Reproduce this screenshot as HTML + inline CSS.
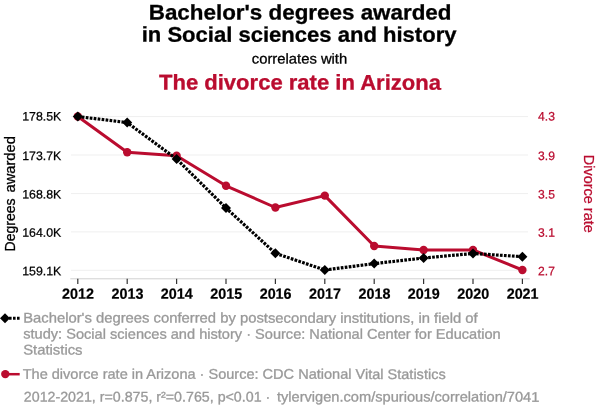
<!DOCTYPE html>
<html><head><meta charset="utf-8">
<style>
html,body{margin:0;padding:0;background:#fff;}
body{width:600px;height:414px;overflow:hidden;font-family:"Liberation Sans",sans-serif;}
svg{display:block;will-change:transform;}
text{font-family:"Liberation Sans",sans-serif;}
</style></head><body>
<svg width="600" height="414" viewBox="0 0 600 414">
<rect width="600" height="414" fill="#fff"/>
<text transform="translate(300.1,19.5) rotate(0.03)" text-anchor="middle" font-size="21.2" fill="#000" font-weight="bold" textLength="302.8" lengthAdjust="spacingAndGlyphs" stroke="#000" stroke-width="0.3">Bachelor's degrees awarded</text>
<text transform="translate(299.1,41.7) rotate(0.03)" text-anchor="middle" font-size="21.2" fill="#000" font-weight="bold" textLength="314.8" lengthAdjust="spacingAndGlyphs" stroke="#000" stroke-width="0.3">in Social sciences and history</text>
<text transform="translate(299.5,63.5) rotate(0.03)" text-anchor="middle" font-size="14.3" fill="#000" textLength="95.4" lengthAdjust="spacingAndGlyphs" stroke="#000" stroke-width="0.3">correlates with</text>
<text transform="translate(300,89.6) rotate(0.03)" text-anchor="middle" font-size="21.3" fill="#ba0c2f" font-weight="bold" textLength="282" lengthAdjust="spacingAndGlyphs" stroke="#ba0c2f" stroke-width="0.3">The divorce rate in Arizona</text>
<g stroke="#efefef" stroke-width="1">
<line x1="71" x2="528" y1="116.6" y2="116.6"/>
<line x1="71" x2="528" y1="155.0" y2="155.0"/>
<line x1="71" x2="528" y1="193.6" y2="193.6"/>
<line x1="71" x2="528" y1="231.9" y2="231.9"/>
<line x1="71" x2="528" y1="270.3" y2="270.3"/>
</g>
<line x1="70.3" x2="529.7" y1="278.8" y2="278.8" stroke="#d0d0d0" stroke-width="1"/>
<g stroke="#333" stroke-width="1.2">
<line x1="77.8" x2="77.8" y1="278.8" y2="284.1"/>
<line x1="127.2" x2="127.2" y1="278.8" y2="284.1"/>
<line x1="176.6" x2="176.6" y1="278.8" y2="284.1"/>
<line x1="226.0" x2="226.0" y1="278.8" y2="284.1"/>
<line x1="275.4" x2="275.4" y1="278.8" y2="284.1"/>
<line x1="324.8" x2="324.8" y1="278.8" y2="284.1"/>
<line x1="374.2" x2="374.2" y1="278.8" y2="284.1"/>
<line x1="423.6" x2="423.6" y1="278.8" y2="284.1"/>
<line x1="473.0" x2="473.0" y1="278.8" y2="284.1"/>
<line x1="522.4" x2="522.4" y1="278.8" y2="284.1"/>
</g>
<text transform="translate(61.3,120.5) rotate(0.03)" text-anchor="end" font-size="12.2" fill="#000" textLength="39.1" lengthAdjust="spacingAndGlyphs" stroke="#000" stroke-width="0.25">178.5K</text>
<text transform="translate(538.1,120.5) rotate(0.03)" text-anchor="start" font-size="12.2" fill="#ba0c2f" textLength="16.8" lengthAdjust="spacingAndGlyphs" stroke="#ba0c2f" stroke-width="0.25">4.3</text>
<text transform="translate(61.3,159.9) rotate(0.03)" text-anchor="end" font-size="12.2" fill="#000" textLength="39.1" lengthAdjust="spacingAndGlyphs" stroke="#000" stroke-width="0.25">173.7K</text>
<text transform="translate(538.1,159.9) rotate(0.03)" text-anchor="start" font-size="12.2" fill="#ba0c2f" textLength="16.8" lengthAdjust="spacingAndGlyphs" stroke="#ba0c2f" stroke-width="0.25">3.9</text>
<text transform="translate(61.3,198.5) rotate(0.03)" text-anchor="end" font-size="12.2" fill="#000" textLength="39.1" lengthAdjust="spacingAndGlyphs" stroke="#000" stroke-width="0.25">168.8K</text>
<text transform="translate(538.1,198.5) rotate(0.03)" text-anchor="start" font-size="12.2" fill="#ba0c2f" textLength="16.8" lengthAdjust="spacingAndGlyphs" stroke="#ba0c2f" stroke-width="0.25">3.5</text>
<text transform="translate(61.3,236.8) rotate(0.03)" text-anchor="end" font-size="12.2" fill="#000" textLength="39.1" lengthAdjust="spacingAndGlyphs" stroke="#000" stroke-width="0.25">164.0K</text>
<text transform="translate(538.1,236.8) rotate(0.03)" text-anchor="start" font-size="12.2" fill="#ba0c2f" textLength="16.8" lengthAdjust="spacingAndGlyphs" stroke="#ba0c2f" stroke-width="0.25">3.1</text>
<text transform="translate(61.3,275.2) rotate(0.03)" text-anchor="end" font-size="12.2" fill="#000" textLength="39.1" lengthAdjust="spacingAndGlyphs" stroke="#000" stroke-width="0.25">159.1K</text>
<text transform="translate(538.1,275.2) rotate(0.03)" text-anchor="start" font-size="12.2" fill="#ba0c2f" textLength="16.8" lengthAdjust="spacingAndGlyphs" stroke="#ba0c2f" stroke-width="0.25">2.7</text>
<text transform="translate(14.5,251.4) rotate(-90)" text-anchor="start" font-size="14.3" fill="#000" stroke="#000" stroke-width="0.3" textLength="53" lengthAdjust="spacingAndGlyphs">Degrees</text>
<text transform="translate(14.5,192.5) rotate(-90)" text-anchor="start" font-size="14.3" fill="#000" stroke="#000" stroke-width="0.3" textLength="56.3" lengthAdjust="spacingAndGlyphs">awarded</text>
<text transform="translate(583.5,193.8) rotate(90)" text-anchor="middle" font-size="15" fill="#ba0c2f" stroke="#ba0c2f" stroke-width="0.25" textLength="78" lengthAdjust="spacingAndGlyphs">Divorce rate</text>
<text transform="translate(78.0,298.7) rotate(0.03)" text-anchor="middle" font-size="14.8" fill="#000" font-weight="bold" textLength="31.9" lengthAdjust="spacingAndGlyphs" stroke="#000" stroke-width="0.2">2012</text>
<text transform="translate(127.4,298.7) rotate(0.03)" text-anchor="middle" font-size="14.8" fill="#000" font-weight="bold" textLength="31.9" lengthAdjust="spacingAndGlyphs" stroke="#000" stroke-width="0.2">2013</text>
<text transform="translate(176.8,298.7) rotate(0.03)" text-anchor="middle" font-size="14.8" fill="#000" font-weight="bold" textLength="31.9" lengthAdjust="spacingAndGlyphs" stroke="#000" stroke-width="0.2">2014</text>
<text transform="translate(226.2,298.7) rotate(0.03)" text-anchor="middle" font-size="14.8" fill="#000" font-weight="bold" textLength="31.9" lengthAdjust="spacingAndGlyphs" stroke="#000" stroke-width="0.2">2015</text>
<text transform="translate(275.6,298.7) rotate(0.03)" text-anchor="middle" font-size="14.8" fill="#000" font-weight="bold" textLength="31.9" lengthAdjust="spacingAndGlyphs" stroke="#000" stroke-width="0.2">2016</text>
<text transform="translate(325.0,298.7) rotate(0.03)" text-anchor="middle" font-size="14.8" fill="#000" font-weight="bold" textLength="31.9" lengthAdjust="spacingAndGlyphs" stroke="#000" stroke-width="0.2">2017</text>
<text transform="translate(374.4,298.7) rotate(0.03)" text-anchor="middle" font-size="14.8" fill="#000" font-weight="bold" textLength="31.9" lengthAdjust="spacingAndGlyphs" stroke="#000" stroke-width="0.2">2018</text>
<text transform="translate(423.8,298.7) rotate(0.03)" text-anchor="middle" font-size="14.8" fill="#000" font-weight="bold" textLength="31.9" lengthAdjust="spacingAndGlyphs" stroke="#000" stroke-width="0.2">2019</text>
<text transform="translate(473.2,298.7) rotate(0.03)" text-anchor="middle" font-size="14.8" fill="#000" font-weight="bold" textLength="31.9" lengthAdjust="spacingAndGlyphs" stroke="#000" stroke-width="0.2">2020</text>
<text transform="translate(522.6,298.7) rotate(0.03)" text-anchor="middle" font-size="14.8" fill="#000" font-weight="bold" textLength="31.9" lengthAdjust="spacingAndGlyphs" stroke="#000" stroke-width="0.2">2021</text>
<polyline fill="none" stroke="#ba0c2f" stroke-width="3" stroke-linejoin="round" points="77.8,116.5 127.2,152.3 176.6,155.8 226.0,185.8 275.4,207.5 324.8,195.6 374.2,246 423.6,250 473.0,250 522.4,270"/>
<g fill="#ba0c2f"><circle cx="77.8" cy="116.5" r="4.2"/><circle cx="127.2" cy="152.3" r="4.2"/><circle cx="176.6" cy="155.8" r="4.2"/><circle cx="226.0" cy="185.8" r="4.2"/><circle cx="275.4" cy="207.5" r="4.2"/><circle cx="324.8" cy="195.6" r="4.2"/><circle cx="374.2" cy="246" r="4.2"/><circle cx="423.6" cy="250" r="4.2"/><circle cx="473.0" cy="250" r="4.2"/><circle cx="522.4" cy="270" r="4.2"/></g>
<polyline fill="none" stroke="#000" stroke-width="3.2" stroke-dasharray="2.7,1.3" points="77.8,116.5 127.2,122.6 176.6,159 226.0,208 275.4,253.3 324.8,270 374.2,263.6 423.6,258 473.0,253.5 522.4,256.7"/>
<g fill="#000"><path d="M77.8,111.5l5,5l-5,5l-5,-5z"/><path d="M127.2,117.6l5,5l-5,5l-5,-5z"/><path d="M176.6,154l5,5l-5,5l-5,-5z"/><path d="M226.0,203l5,5l-5,5l-5,-5z"/><path d="M275.4,248.3l5,5l-5,5l-5,-5z"/><path d="M324.8,265l5,5l-5,5l-5,-5z"/><path d="M374.2,258.6l5,5l-5,5l-5,-5z"/><path d="M423.6,253l5,5l-5,5l-5,-5z"/><path d="M473.0,248.5l5,5l-5,5l-5,-5z"/><path d="M522.4,251.7l5,5l-5,5l-5,-5z"/></g>
<line x1="5" x2="20" y1="318.3" y2="318.3" stroke="#000" stroke-width="3" stroke-dasharray="2.6,1.4"/>
<path d="M5,313.3l5,5l-5,5l-5,-5z" fill="#000"/>
<text transform="translate(23.80,401.5) rotate(0.03)" font-size="14.0" fill="#999" textLength="246.45" lengthAdjust="spacingAndGlyphs" stroke="#999" stroke-width="0.3">2012-2021, r=0.875, r²=0.765, p&lt;0.01 ·</text>
<text transform="translate(276.90,401.5) rotate(0.03)" font-size="14.0" fill="#999" textLength="262.45" lengthAdjust="spacingAndGlyphs" stroke="#999" stroke-width="0.3">tylervigen.com/spurious/correlation/7041</text>
<text transform="translate(23.2,322.5) rotate(0.03)" text-anchor="start" font-size="14.0" fill="#999" textLength="454.5" lengthAdjust="spacingAndGlyphs" stroke="#999" stroke-width="0.3">Bachelor's degrees conferred by postsecondary institutions, in field of</text>
<text transform="translate(23.2,338.6) rotate(0.03)" text-anchor="start" font-size="14.0" fill="#999" textLength="477.5" lengthAdjust="spacingAndGlyphs" stroke="#999" stroke-width="0.3">study: Social sciences and history · Source: National Center for Education</text>
<text transform="translate(23.2,354.6) rotate(0.03)" text-anchor="start" font-size="14.0" fill="#999" textLength="59.3" lengthAdjust="spacingAndGlyphs" stroke="#999" stroke-width="0.3">Statistics</text>
<text transform="translate(22.7,378.7) rotate(0.03)" text-anchor="start" font-size="14.0" fill="#999" textLength="423" lengthAdjust="spacingAndGlyphs" stroke="#999" stroke-width="0.3">The divorce rate in Arizona · Source: CDC National Vital Statistics</text>
<line x1="5" x2="19.7" y1="374.2" y2="374.2" stroke="#ba0c2f" stroke-width="2.5"/>
<circle cx="5.3" cy="374.1" r="4.2" fill="#ba0c2f"/>
</svg>
</body></html>
